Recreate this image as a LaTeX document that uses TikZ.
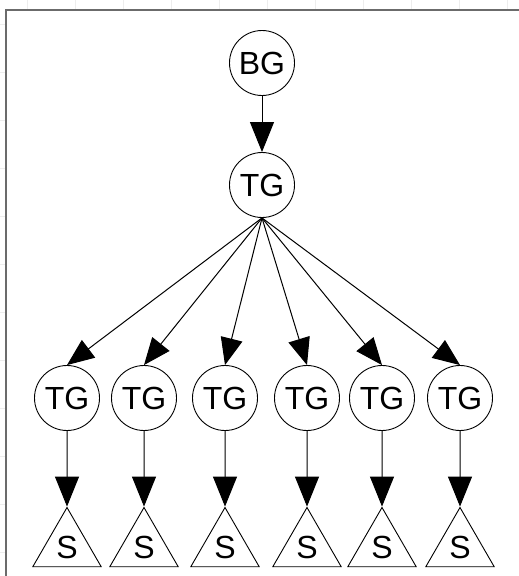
\documentclass[tikz,border=0pt]{standalone}
\usepackage{fontspec}
\setmainfont{Liberation Sans}
\usetikzlibrary{arrows.meta,shapes.geometric}
\begin{document}
\begin{tikzpicture}[x=1pt,y=-1pt,
  gnode/.style={draw=black,line width=0.9pt,circle,minimum size=65pt,inner sep=0pt,font=\fontsize{32}{32}\selectfont},
  snode/.style={draw=black,line width=0.9pt,regular polygon,regular polygon sides=3,minimum size=79pt,inner sep=0pt,font=\fontsize{32}{32}\selectfont},
  edge/.style={draw=black,line width=1pt,-{Triangle[length=30pt,width=24pt]}},
  fan/.style={draw=black,line width=1pt,-{Triangle[length=27pt,width=22pt]}},
  frame/.style={draw=black!58,line width=2pt},
  faint/.style={draw=black!7,line width=1pt}]
\useasboundingbox (0,0) rectangle (519,576);
\fill[white] (0,0) rectangle (519,576);
% faint grid in the margins
\foreach \gx in {27,75,123,171,219,267,315,363,411,459,507}
  \draw[faint] (\gx,0) -- (\gx,9);
\foreach \gy in {24,72,120,168,216,264,312,360,408,456,504,552}
  \draw[faint] (0,\gy) -- (5,\gy);
% frame
\draw[frame] (6,576) -- (6,10) -- (519,10);
% nodes
\node[gnode] (bg) at (262,63) {BG};
\node[gnode] (tg) at (262,185) {TG};
\foreach \i/\cx in {1/67,2/144,3/225,4/307,5/382,6/460}{
  \node[gnode] (t\i) at (\cx,398) {TG};
  \node[snode] (s\i) at (\cx,547) {S};
}
% connectors
\draw[edge] (bg.south) -- (tg.north);
\foreach \i in {1,...,6}{
  \draw[fan] (tg.south) -- (t\i.north);
  \draw[edge] (t\i.south) -- (s\i.north);
}
\end{tikzpicture}
\end{document}
